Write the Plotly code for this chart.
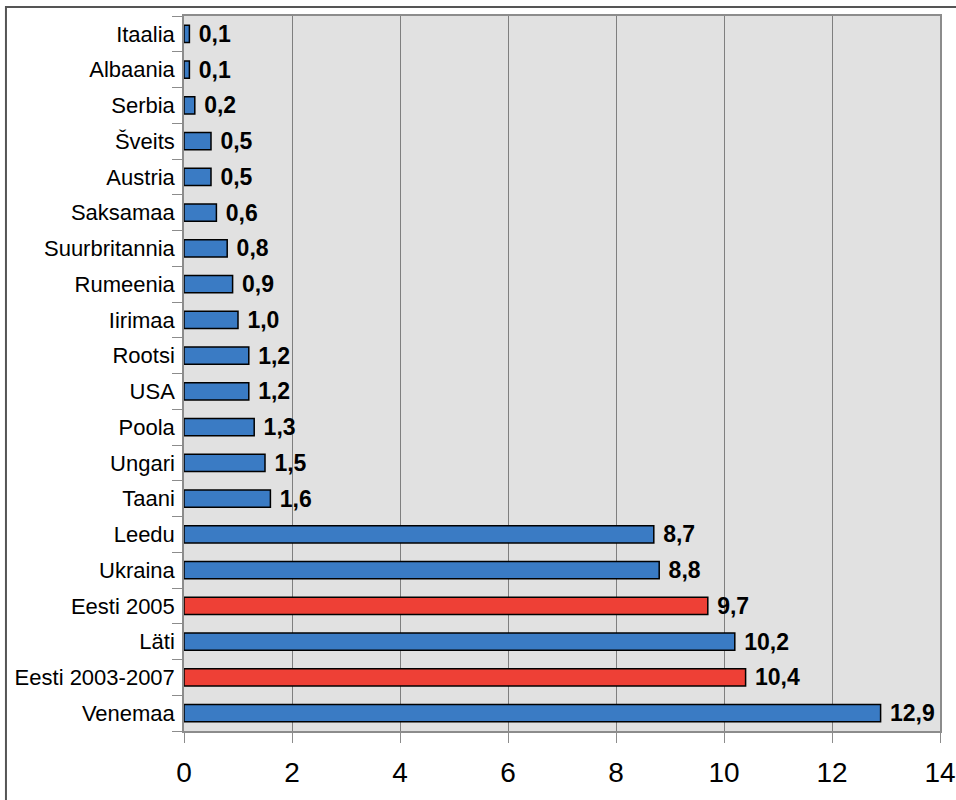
import plotly.graph_objects as go

countries = ["Venemaa", "Eesti 2003-2007", "Läti", "Eesti 2005", "Ukraina", "Leedu",
             "Taani", "Ungari", "Poola", "USA", "Rootsi", "Iirimaa", "Rumeenia",
             "Suurbritannia", "Saksamaa", "Austria", "Šveits", "Serbia", "Albaania", "Itaalia"]
values = [12.9, 10.4, 10.2, 9.7, 8.8, 8.7, 1.6, 1.5, 1.3, 1.2, 1.2, 1.0, 0.9,
          0.8, 0.6, 0.5, 0.5, 0.2, 0.1, 0.1]
highlight = ["Eesti 2003-2007", "Eesti 2005"]

colors = ["#ee4036" if c in highlight else "#3a7bc4" for c in countries]

font_narrow = "Liberation Sans Narrow, Arial Narrow, Liberation Sans, Arial"

fig = go.Figure(go.Bar(
    x=values, y=countries, orientation="h",
    marker=dict(color=colors, line=dict(color="black", width=1.5)),
    text=values, texttemplate=" <b>%{x:.1f}</b>", textposition="outside",
    textfont=dict(family=font_narrow, size=23, color="black"),
    constraintext="none", cliponaxis=False,
))

fig.update_layout(
    width=956, height=800,
    margin=dict(l=184, r=16, t=16, b=69),
    paper_bgcolor="white", plot_bgcolor="#e1e1e1",
    separators=", ",
    bargap=0.52,
    showlegend=False,
    font=dict(family=font_narrow, color="black"),
)

fig.update_xaxes(
    range=[0, 14], dtick=2, showgrid=True, gridcolor="#7f7f7f", gridwidth=1,
    showline=True, linecolor="#8c8c8c", linewidth=1.5, mirror=True,
    ticks="outside", ticklen=10, tickcolor="#8c8c8c",
    tickfont=dict(size=28, family=font_narrow), zeroline=False,
    ticklabelstandoff=6, automargin=False,
)
fig.update_yaxes(
    type="category", tickson="boundaries", showgrid=False,
    showline=True, linecolor="#8c8c8c", linewidth=1.5, mirror=True,
    ticks="outside", ticklen=10, tickcolor="#8c8c8c",
    tickfont=dict(size=22, family=font_narrow),
    ticklabelstandoff=3, automargin=False,
)

# outer frame
fig.add_shape(type="rect", xref="paper", yref="paper",
              x0=-0.2355, x1=1.06, y0=-0.2, y1=1.0126,
              line=dict(color="#555555", width=2), layer="below")

fig.write_html("out.html", config={"displayModeBar": False},
               post_script="document.body.style.margin='0';")
